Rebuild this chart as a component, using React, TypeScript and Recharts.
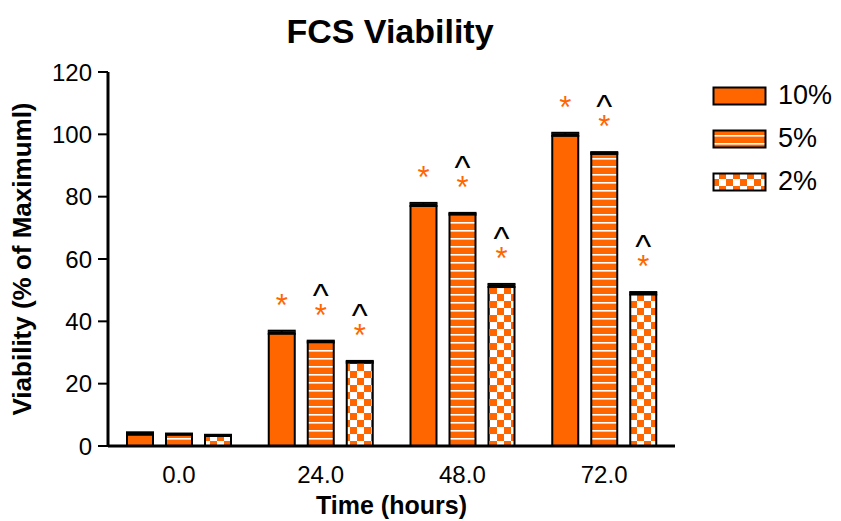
import React from 'react';
import { BarChart, Bar, XAxis, YAxis, ErrorBar, LabelList, Label } from 'recharts';

const categories = ['0.0', '24.0', '48.0', '72.0'];
const seriesNames = ['10%', '5%', '2%'];
const v10 = [4.0, 36.5, 77.5, 100.0];
const v5 = [3.8, 33.5, 74.5, 94.0];
const v2 = [3.4, 27.0, 51.5, 49.0];
const e10 = [0.4, 0.5, 0.5, 0.5];
const e5 = [0.2, 0.3, 0.3, 0.3];
const e2 = [0.2, 0.3, 0.5, 0.4];
// significance marks per group: '*' orange, '^' black
const star10 = [false, true, true, true];
const star5 = [false, true, true, true];
const star2 = [false, true, true, true];
const caret5 = [false, true, true, true];
const caret2 = [false, true, true, true];
const yTicks = [0, 20, 40, 60, 80, 100, 120];

const ORANGE = '#FF6600';
const FONT = '"Liberation Sans", Arial, sans-serif';

const data = categories.map((c, i) => ({
  name: c,
  v10: v10[i], v5: v5[i], v2: v2[i],
  e10: e10[i], e5: e5[i], e2: e2[i],
}));

const makeMarks = (stars: boolean[], carets: boolean[] | null) => (props: any) => {
  const { x, y, width, index } = props;
  const cx = x + width / 2;
  return (
    <g>
      {stars[index] && (
        <text x={cx} y={y - 16} textAnchor="middle" fill={ORANGE} fontSize={31} fontFamily={FONT}>*</text>
      )}
      {carets && carets[index] && (
        <text x={cx} y={y - 35} textAnchor="middle" fill="#000" fontSize={34} fontFamily={FONT}>^</text>
      )}
    </g>
  );
};

const fills = [ORANGE, 'url(#stripes)', 'url(#checks)'];

const LegendBox = () => (
  <div style={{ position: 'absolute', left: 712, top: 74 }}>
    {seriesNames.map((s, i) => (
      <div key={s} style={{ display: 'flex', alignItems: 'center', height: 43 }}>
        <svg width={56} height={20}>
          <rect x={1.5} y={1.5} width={52} height={17} fill={fills[i]} stroke="#000" strokeWidth={2} />
        </svg>
        <span style={{ marginLeft: 10, fontSize: 27, fontFamily: FONT, color: '#000' }}>{s}</span>
      </div>
    ))}
  </div>
);

export default function App() {
  return (
    <div style={{ position: 'absolute', left: 0, top: 0, width: 841, height: 521, background: '#fff' }}>
      <div style={{ position: 'absolute', left: 0, width: 780, top: 12, textAlign: 'center', fontFamily: FONT, fontWeight: 'bold', fontSize: 34 }}>
        FCS Viability
      </div>
      <BarChart
        width={841}
        height={521}
        data={data}
        margin={{ top: 72, right: 166, bottom: 0, left: 0 }}
        barSize={26}
        barGap={13}
      >
        <defs>
          <pattern id="stripes" patternUnits="userSpaceOnUse" width={8} height={8}>
            <rect width={8} height={8} fill={ORANGE} />
            <rect y={6} width={8} height={1.6} fill="#fff" />
          </pattern>
          <pattern id="checks" patternUnits="userSpaceOnUse" width={14} height={14}>
            <rect width={14} height={14} fill={ORANGE} />
            <rect width={7} height={7} fill="#fff" />
            <rect x={7} y={7} width={7} height={7} fill="#fff" />
          </pattern>
        </defs>
        <XAxis
          dataKey="name"
          height={75}
          tickLine={false}
          axisLine={{ stroke: '#000', strokeWidth: 3 }}
          tick={{ fill: '#000', fontSize: 24, fontFamily: FONT }}
          tickMargin={14}
        >
          <Label value="Time (hours)" position="insideBottom" offset={7} style={{ fill: '#000', fontSize: 25, fontWeight: 'bold', fontFamily: FONT }} />
        </XAxis>
        <YAxis
          domain={[0, 120]}
          ticks={yTicks}
          width={108}
          interval={0}
          axisLine={{ stroke: '#000', strokeWidth: 3 }}
          tickLine={{ stroke: '#000', strokeWidth: 2 }}
          tickSize={10}
          tickMargin={6}
          tick={{ fill: '#000', fontSize: 24, fontFamily: FONT }}
        >
          <Label
            value="Viability (% of Maximuml)"
            angle={-90}
            position="insideLeft"
            offset={22}
            style={{ textAnchor: 'middle', fill: '#000', fontSize: 26, fontWeight: 'bold', fontFamily: FONT }}
          />
        </YAxis>
        <Bar dataKey="v10" fill={ORANGE} stroke="#000" strokeWidth={2} isAnimationActive={false}>
          <ErrorBar dataKey="e10" width={14} stroke="#000" strokeWidth={2} direction="y" />
          <LabelList dataKey="v10" content={makeMarks(star10, null)} />
        </Bar>
        <Bar dataKey="v5" fill="url(#stripes)" stroke="#000" strokeWidth={2} isAnimationActive={false}>
          <ErrorBar dataKey="e5" width={14} stroke="#000" strokeWidth={2} direction="y" />
          <LabelList dataKey="v5" content={makeMarks(star5, caret5)} />
        </Bar>
        <Bar dataKey="v2" fill="url(#checks)" stroke="#000" strokeWidth={2} isAnimationActive={false}>
          <ErrorBar dataKey="e2" width={14} stroke="#000" strokeWidth={2} direction="y" />
          <LabelList dataKey="v2" content={makeMarks(star2, caret2)} />
        </Bar>
      </BarChart>
      <LegendBox />
    </div>
  );
}
